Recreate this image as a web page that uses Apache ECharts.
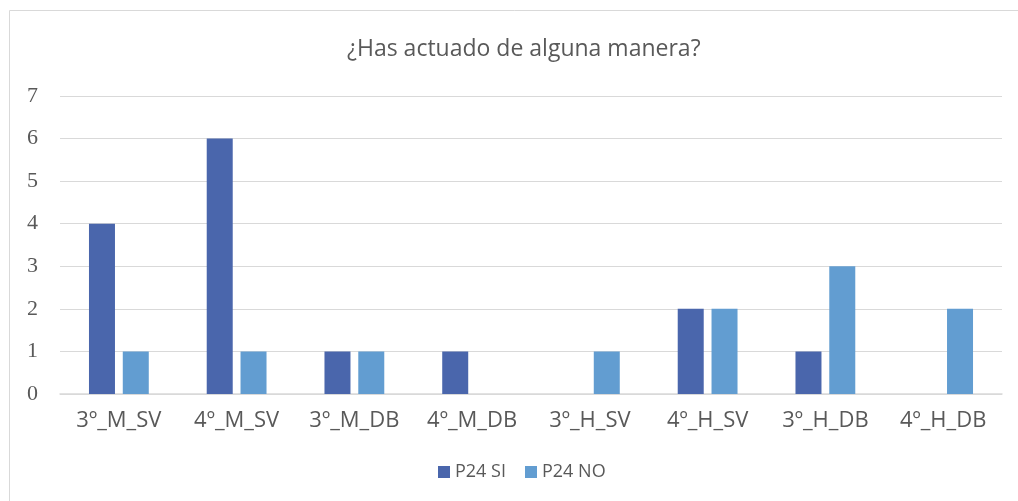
<!DOCTYPE html>
<html>
<head>
<meta charset="utf-8">
<script src="https://cdn.jsdelivr.net/npm/echarts@6/dist/echarts.min.js"></script>
<style>
  html, body { margin: 0; padding: 0; background: #fff; }
  #chart { width: 1018px; height: 501px; }
</style>
</head>
<body>
<div id="chart"></div>
<script>
// datos
const categories = ["3º_M_SV", "4º_M_SV", "3º_M_DB", "4º_M_DB", "3º_H_SV", "4º_H_SV", "3º_H_DB", "4º_H_DB"];
const p24Si = [4, 6, 1, 1, 0, 2, 1, 0];
const p24No = [1, 1, 1, 0, 1, 2, 3, 2];
const yTicks = [0, 1, 2, 3, 4, 5, 6, 7];

let myChart = echarts.init(document.getElementById("chart"));
const option = {
  animation: false,
  title: {
    text: "¿Has actuado de alguna manera?",
    left: 342,
    top: 33,
    textStyle: {
      fontFamily: "Open Sans",
      fontWeight: "normal",
      fontSize: 23,
      color: "#595959",
    },
  },
  graphic: [
    {
      // marco del área del gráfico (sigue más allá del borde derecho)
      type: "rect",
      shape: { x: 9.5, y: 10.5, width: 1030, height: 520 },
      style: { fill: "none", stroke: "#D9D9D9", lineWidth: 1 },
      silent: true,
    },
  ],
  legend: {
    bottom: 15,
    left: 433,
    itemWidth: 12,
    itemHeight: 12,
    itemGap: 19,
    icon: "rect",
    textStyle: { fontFamily: "Open Sans", fontSize: 18, color: "#595959" },
    data: ["P24 SI", "P24 NO"],
  },
  grid: { left: 60, right: 16, top: 96, bottom: 107 },
  xAxis: {
    type: "category",
    data: categories,
    axisTick: { show: false },
    axisLine: { show: true, lineStyle: { color: "#D9D9D9", width: 1.5 } },
    axisLabel: {
      margin: 16,
      fontFamily: "Open Sans",
      fontSize: 22,
      color: "#595959",
    },
  },
  yAxis: {
    type: "value",
    min: yTicks[0],
    max: yTicks[yTicks.length - 1],
    interval: 1,
    axisLine: { show: false },
    axisTick: { show: false },
    splitLine: { lineStyle: { color: "#D9D9D9", width: 1 } },
    axisLabel: {
      margin: 22,
      fontFamily: "Liberation Serif",
      fontSize: 22,
      color: "#595959",
    },
  },
  series: [
    {
      name: "P24 SI",
      type: "bar",
      data: p24Si,
      barWidth: 26,
      barGap: "30%",
      itemStyle: { color: "#4A66AC" },
    },
    {
      name: "P24 NO",
      type: "bar",
      data: p24No,
      barWidth: 26,
      itemStyle: { color: "#629DD1" },
    },
  ],
};
myChart.setOption(option, true);
</script>
</body>
</html>
